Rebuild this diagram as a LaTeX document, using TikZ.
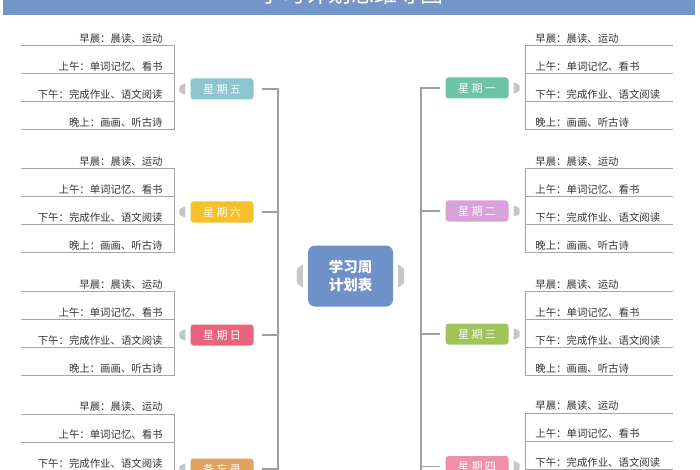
\documentclass[tikz,border=0pt]{standalone}
\usepackage{fontspec}
\newfontfamily\cjk{Noto Sans CJK SC}
\usepackage{xcolor}
\usetikzlibrary{positioning}

\definecolor{bannerblue}{HTML}{7395C7}
\definecolor{hubblue}{HTML}{7091C7}
\definecolor{fricol}{HTML}{8CC5CF}
\definecolor{satcol}{HTML}{F5C02C}
\definecolor{suncol}{HTML}{E9637B}
\definecolor{memocol}{HTML}{E1A35F}
\definecolor{moncol}{HTML}{6EC3A7}
\definecolor{tuecol}{HTML}{D8A2DA}
\definecolor{wedcol}{HTML}{9FC45A}
\definecolor{thucol}{HTML}{F28FA8}
\definecolor{itemgray}{HTML}{333333}
\definecolor{rulegray}{HTML}{A6A6A6}
\definecolor{spinegray}{HTML}{A0A0A0}
\definecolor{tabgray}{HTML}{C6C6C6}

\begin{document}
\begin{tikzpicture}[x=1pt, y=-1pt, node distance={123pt},
    daybox/.style = {rounded corners=3pt, minimum width=63pt, minimum height=21pt, inner sep=0pt, text=white, font=\cjk\fontsize{11}{11}\selectfont},
    litem/.style = {text width=129pt, align=right, inner xsep=12pt, inner ysep=1pt, text height=8pt, text depth=2pt, text=itemgray, font=\cjk\fontsize{10.4}{12}\selectfont},
    ritem/.style = {litem, text width=127pt, align=left, inner xsep=10pt},
    itemline/.style = {draw=rulegray, line width=0.9pt},
    spine/.style = {draw=spinegray, line width=1.2pt},
    tabmark/.style = {fill=tabgray, rounded corners=1pt}]
        \useasboundingbox (0,0) rectangle (700,470);

        % banner
        \fill[bannerblue] (3,-30) rectangle (695,15);
        \node[text=white, anchor=base, inner sep=0pt, font=\cjk\fontsize{23}{23}\selectfont] (ttl) at (351,2.5) {学习计划思维导图};

        % centre
        \node[fill=hubblue, rounded corners=7pt, minimum width=85pt, minimum height=61pt, align=center, text=white, font=\cjk\bfseries\fontsize{14.5}{18.3}\selectfont] (hub) at (350.5,276) {学习周\\计划表};
        \coordinate (spl) at (278,471);
        \coordinate (spr) at (421,471);

        % left days
        \node[daybox,fill=fricol] (fri) at (222,89) {星 期 五};
        \node[daybox,fill=satcol] (sat) [on grid, below=of fri] {星 期 六};
        \node[daybox,fill=suncol] (sun) [on grid, below=of sat] {星 期 日};
        \node[daybox,fill=memocol] (memo) [on grid, below=134pt of sun] {备 忘 录};

        % right days
        \node[daybox,fill=moncol] (mon) at (477,88) {星 期 一};
        \node[daybox,fill=tuecol] (tue) [on grid, below=of mon] {星 期 二};
        \node[daybox,fill=wedcol] (wed) [on grid, below=of tue] {星 期 三};
        \node[daybox,fill=thucol] (thu) [on grid, below=132.5pt of wed] {星 期 四};

        % left items
        \node[litem] (fri1) [above left=32.8pt and 15.5pt of fri] {早晨：晨读、运动};
        \node[litem] (fri2) [below=15.7pt of fri1] {上午：单词记忆、看书};
        \node[litem] (fri3) [below=15.7pt of fri2] {下午：完成作业、语文阅读};
        \node[litem] (fri4) [below=15.7pt of fri3] {晚上：画画、听古诗};

        \node[litem] (sat1) [above left=32.8pt and 15.5pt of sat] {早晨：晨读、运动};
        \node[litem] (sat2) [below=15.7pt of sat1] {上午：单词记忆、看书};
        \node[litem] (sat3) [below=15.7pt of sat2] {下午：完成作业、语文阅读};
        \node[litem] (sat4) [below=15.7pt of sat3] {晚上：画画、听古诗};

        \node[litem] (sun1) [above left=32.8pt and 15.5pt of sun] {早晨：晨读、运动};
        \node[litem] (sun2) [below=15.7pt of sun1] {上午：单词记忆、看书};
        \node[litem] (sun3) [below=15.7pt of sun2] {下午：完成作业、语文阅读};
        \node[litem] (sun4) [below=15.7pt of sun3] {晚上：画画、听古诗};

        \node[litem] (memo1) [above left=44.3pt and 15.5pt of memo] {早晨：晨读、运动};
        \node[litem] (memo2) [below=15.7pt of memo1] {上午：单词记忆、看书};
        \node[litem] (memo3) [below=15.7pt of memo2] {下午：完成作业、语文阅读};

        % right items
        \node[ritem] (mon1) [above right=31.8pt and 16.5pt of mon] {早晨：晨读、运动};
        \node[ritem] (mon2) [below=15.7pt of mon1] {上午：单词记忆、看书};
        \node[ritem] (mon3) [below=15.7pt of mon2] {下午：完成作业、语文阅读};
        \node[ritem] (mon4) [below=15.7pt of mon3] {晚上：画画、听古诗};

        \node[ritem] (tue1) [above right=31.8pt and 16.5pt of tue] {早晨：晨读、运动};
        \node[ritem] (tue2) [below=15.7pt of tue1] {上午：单词记忆、看书};
        \node[ritem] (tue3) [below=15.7pt of tue2] {下午：完成作业、语文阅读};
        \node[ritem] (tue4) [below=15.7pt of tue3] {晚上：画画、听古诗};

        \node[ritem] (wed1) [above right=31.8pt and 16.5pt of wed] {早晨：晨读、运动};
        \node[ritem] (wed2) [below=15.7pt of wed1] {上午：单词记忆、看书};
        \node[ritem] (wed3) [below=15.7pt of wed2] {下午：完成作业、语文阅读};
        \node[ritem] (wed4) [below=15.7pt of wed3] {晚上：画画、听古诗};

        \node[ritem] (thu1) [above right=42.8pt and 16.5pt of thu] {早晨：晨读、运动};
        \node[ritem] (thu2) [below=15.7pt of thu1] {上午：单词记忆、看书};
        \node[ritem] (thu3) [below=15.7pt of thu2] {下午：完成作业、语文阅读};

        % underlines, left
        \draw[itemline] (fri1.south west) -- (fri1.south east);
        \draw[itemline] (fri2.south west) -- (fri2.south east);
        \draw[itemline] (fri3.south west) -- (fri3.south east);
        \draw[itemline] (fri4.south west) -- (fri4.south east);
        \draw[itemline] (fri1.south east) -- (fri4.south east);
        \draw[itemline] (sat1.south west) -- (sat1.south east);
        \draw[itemline] (sat2.south west) -- (sat2.south east);
        \draw[itemline] (sat3.south west) -- (sat3.south east);
        \draw[itemline] (sat4.south west) -- (sat4.south east);
        \draw[itemline] (sat1.south east) -- (sat4.south east);
        \draw[itemline] (sun1.south west) -- (sun1.south east);
        \draw[itemline] (sun2.south west) -- (sun2.south east);
        \draw[itemline] (sun3.south west) -- (sun3.south east);
        \draw[itemline] (sun4.south west) -- (sun4.south east);
        \draw[itemline] (sun1.south east) -- (sun4.south east);
        \draw[itemline] (memo1.south west) -- (memo1.south east);
        \draw[itemline] (memo2.south west) -- (memo2.south east);
        \draw[itemline] (memo3.south west) -- (memo3.south east);
        \draw[itemline] (memo1.south east) -- (memo3.south east);

        % underlines, right
        \draw[itemline] (mon1.south west) -- (mon1.south east);
        \draw[itemline] (mon2.south west) -- (mon2.south east);
        \draw[itemline] (mon3.south west) -- (mon3.south east);
        \draw[itemline] (mon4.south west) -- (mon4.south east);
        \draw[itemline] (mon1.south west) -- (mon4.south west);
        \draw[itemline] (tue1.south west) -- (tue1.south east);
        \draw[itemline] (tue2.south west) -- (tue2.south east);
        \draw[itemline] (tue3.south west) -- (tue3.south east);
        \draw[itemline] (tue4.south west) -- (tue4.south east);
        \draw[itemline] (tue1.south west) -- (tue4.south west);
        \draw[itemline] (wed1.south west) -- (wed1.south east);
        \draw[itemline] (wed2.south west) -- (wed2.south east);
        \draw[itemline] (wed3.south west) -- (wed3.south east);
        \draw[itemline] (wed4.south west) -- (wed4.south east);
        \draw[itemline] (wed1.south west) -- (wed4.south west);
        \draw[itemline] (thu1.south west) -- (thu1.south east);
        \draw[itemline] (thu2.south west) -- (thu2.south east);
        \draw[itemline] (thu3.south west) -- (thu3.south east);
        \draw[itemline] (thu1.south west) -- (thu3.south west);

        % spines
        \draw[spine] ([xshift=8pt]fri.east) -| (spl);
        \draw[spine] ([xshift=8pt]sat.east) -| (spl);
        \draw[spine] ([xshift=8pt]sun.east) -| (spl);
        \draw[spine] ([xshift=8pt]memo.east) -| (spl);
        \draw[spine] ([xshift=-5pt]mon.west) -| (spr);
        \draw[spine] ([xshift=-5pt]tue.west) -| (spr);
        \draw[spine] ([xshift=-5pt]wed.west) -| (spr);
        \draw[spine] ([xshift=-5pt]thu.west) -| (spr);

        % tabs
        \fill[tabmark] ([xshift=-5pt]fri.west) ++(0,-6) -- ++(0,12) -- ++(-6,-3) -- ++(0,-6) -- cycle;
        \fill[tabmark] ([xshift=-5pt]sat.west) ++(0,-6) -- ++(0,12) -- ++(-6,-3) -- ++(0,-6) -- cycle;
        \fill[tabmark] ([xshift=-5pt]sun.west) ++(0,-6) -- ++(0,12) -- ++(-6,-3) -- ++(0,-6) -- cycle;
        \fill[tabmark] ([xshift=-5pt]memo.west) ++(0,-6) -- ++(0,12) -- ++(-6,-3) -- ++(0,-6) -- cycle;
        \fill[tabmark] ([xshift=5pt]mon.east) ++(0,-6) -- ++(0,12) -- ++(6,-3) -- ++(0,-6) -- cycle;
        \fill[tabmark] ([xshift=5pt]tue.east) ++(0,-6) -- ++(0,12) -- ++(6,-3) -- ++(0,-6) -- cycle;
        \fill[tabmark] ([xshift=5pt]wed.east) ++(0,-6) -- ++(0,12) -- ++(6,-3) -- ++(0,-6) -- cycle;
        \fill[tabmark] ([xshift=5pt]thu.east) ++(0,-6) -- ++(0,12) -- ++(6,-3) -- ++(0,-6) -- cycle;
        \fill[tabmark] ([xshift=-5pt]hub.west) ++(0,-12) -- ++(0,24) -- ++(-6,-5) -- ++(0,-14) -- cycle;
        \fill[tabmark] ([xshift=5pt]hub.east) ++(0,-12) -- ++(0,24) -- ++(6,-5) -- ++(0,-14) -- cycle;
\end{tikzpicture}
\end{document}
